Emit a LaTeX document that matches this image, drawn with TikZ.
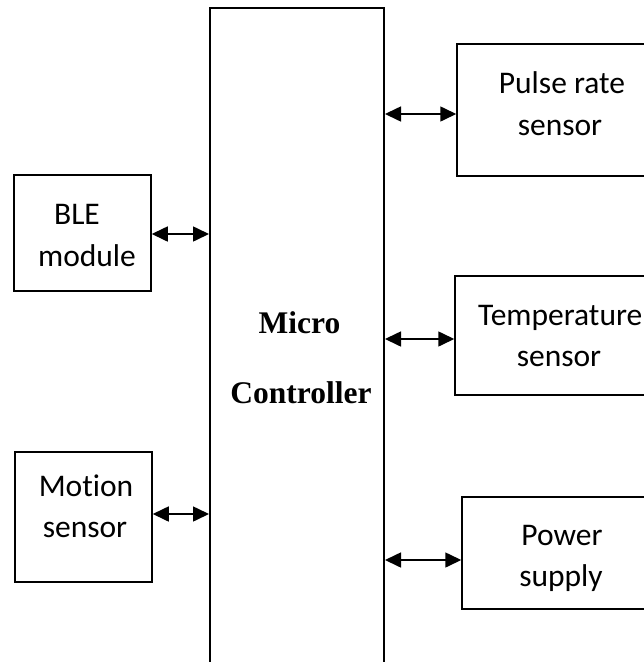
\documentclass[tikz,border=0pt]{standalone}
\usepackage{fontspec}
\setmainfont{Carlito}[Ligatures={NoCommon}]
\newfontfamily\tnrfont{Liberation Serif}
\usetikzlibrary{arrows.meta}
\begin{document}
\begin{tikzpicture}[x=1pt,y=-1pt,
  blk/.style={draw,line width=1.5pt,inner sep=0pt},
  mainblk/.style={draw,line width=2pt,inner sep=0pt},
  txt/.style={inner sep=0pt,anchor=base,font=\fontsize{31.5}{42}\selectfont},
  btxt/.style={inner sep=0pt,anchor=base,font=\tnrfont\bfseries\fontsize{31.5}{42}\selectfont},
  link/.style={line width=1.6pt,{Triangle[length=16pt,width=15pt]}-{Triangle[length=16pt,width=15pt]}}]
\useasboundingbox (0,0) rectangle (644,662);
\clip (0,0) rectangle (644,662);
% blocks
\node[mainblk,minimum width=174pt,minimum height=672pt] (mcu) at (297,344) {};
\node[blk,minimum width=137pt,minimum height=116pt] (ble) at (82.5,233) {};
\node[blk,minimum width=137pt,minimum height=130pt] (mot) at (83.5,517) {};
\node[blk,minimum width=207pt,minimum height=132pt] (pul) at (560.5,110) {};
\node[blk,minimum width=209pt,minimum height=119pt] (tmp) at (559.5,335.5) {};
\node[blk,minimum width=202pt,minimum height=112pt] (pow) at (563,553) {};
% texts
\node[btxt] (t1) at (299.5,333) {Micro};
\node[btxt] (t2) at (301,403) {Controller};
\node[txt] (t3) at (77,224) {BLE};
\node[txt] (t4) at (87,266) {module};
\node[txt] (t5) at (86,496) {Motion};
\node[txt] (t6) at (85,537) {sensor};
\node[txt] (t7) at (562,93) {Pulse rate};
\node[txt] (t8) at (560,135) {sensor};
\node[txt,anchor=base west] (t9) at (478,325) {Temperature};
\node[txt] (t10) at (559,366) {sensor};
\node[txt] (t11) at (562,545) {Power};
\node[txt] (t12) at (561,586) {supply};
% connectors
\draw[link] ([yshift=-1pt]ble.east) -- ([yshift=-1pt]ble.east -| mcu.west);
\draw[link] ([yshift=3pt]mot.east) -- ([yshift=3pt]mot.east -| mcu.west);
\draw[link] ([yshift=-4pt]pul.west -| mcu.east) -- ([yshift=-4pt]pul.west);
\draw[link] ([yshift=-3.5pt]tmp.west -| mcu.east) -- ([yshift=-3.5pt]tmp.west);
\draw[link] ([yshift=-7pt]pow.west -| mcu.east) -- ([yshift=-7pt]pow.west);
\end{tikzpicture}
\end{document}
